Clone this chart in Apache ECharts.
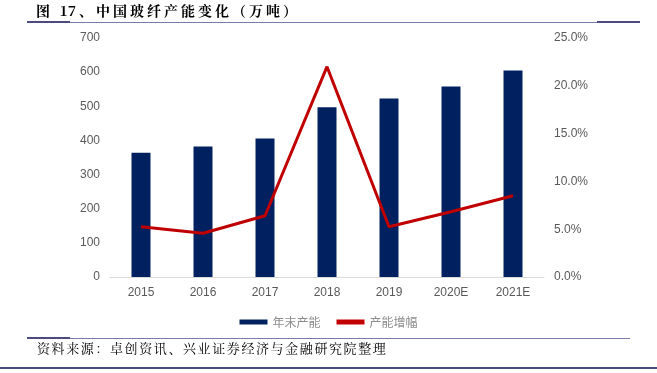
<!DOCTYPE html>
<html>
<head>
<meta charset="utf-8">
<script src="https://cdn.jsdelivr.net/npm/echarts@6/dist/echarts.min.js"></script>
<style>
html,body{margin:0;padding:0;background:#fff;}
#c{width:657px;height:373px;}
</style>
</head>
<body>
<div id="c"></div>
<script>
var categories = ['2015','2016','2017','2018','2019','2020E','2021E'];
var capacity = [364, 382, 406, 497, 523, 558, 605];
var growth = [0.0526, 0.0457, 0.0641, 0.220, 0.0526, 0.0683, 0.085];
var leftTicks = [0, 700, 100];
var rightTicks = [0, 0.25, 0.05];
var titleText = '图 17、中国玻纤产能变化（万吨）';
var sourceText = '资料来源：卓创资讯、兴业证券经济与金融研究院整理';

var measureCtx = document.createElement('canvas').getContext('2d');
function spacedText(text, x, y, font, spacing, color) {
  measureCtx.font = font;
  var els = [];
  var cx = x;
  for (var i = 0; i < text.length; i++) {
    var ch = text[i];
    els.push({type: 'text', x: cx, y: y, style: {text: ch, fill: color, font: font}});
    var next = text[i + 1];
    var tight = /[0-9]/.test(ch) && next && /[0-9]/.test(next);
    cx += measureCtx.measureText(ch).width + (tight ? 0 : spacing);
  }
  return els;
}

var chart = echarts.init(document.getElementById('c'));
var cjk = '"Noto Sans CJK SC", sans-serif';
var titleFont = 'bold 14px "Noto Serif CJK SC", "Noto Sans CJK SC", serif';
var srcFont = '13px "Noto Serif CJK SC", "Noto Sans CJK SC", serif';

var graphics = [
  {type: 'rect', shape: {x: 27, y: 22, width: 613, height: 1}, style: {fill: '#7a7aa6'}},
  {type: 'rect', shape: {x: 27, y: 21, width: 43, height: 2}, style: {fill: '#4b4b7d'}},
  {type: 'rect', shape: {x: 597, y: 21, width: 43, height: 2}, style: {fill: '#4b4b7d'}},
  {type: 'rect', shape: {x: 27, y: 338, width: 603, height: 1}, style: {fill: '#7a7aa6'}},
  {type: 'rect', shape: {x: 27, y: 337, width: 43, height: 2}, style: {fill: '#4b4b7d'}},
  {type: 'rect', shape: {x: 0, y: 367, width: 657, height: 2}, style: {fill: '#4b4b7d'}}
];
graphics = graphics.concat(spacedText(titleText, 36, 4, titleFont, 3.0, '#000'));
graphics = graphics.concat(spacedText(sourceText, 37, 342, srcFont, 1.6, '#000'));

chart.setOption({
  animation: false,
  backgroundColor: '#fff',
  grid: {left: 110, right: 113, top: 38, bottom: 96},
  legend: {
    top: 311, left: 'center',
    itemGap: 16, itemWidth: 28, itemHeight: 5,
    textStyle: {color: '#8c8c8c', fontSize: 12, fontFamily: cjk},
    data: [
      {name: '年末产能', icon: 'rect'},
      {name: '产能增幅', icon: 'rect'}
    ]
  },
  xAxis: {
    type: 'category', data: categories,
    axisLine: {lineStyle: {color: '#d9d9d9', width: 1}},
    axisTick: {show: false},
    axisLabel: {color: '#595959', fontSize: 12, margin: 10, fontFamily: 'Arial, "Liberation Sans", sans-serif'}
  },
  yAxis: [
    {
      type: 'value', min: leftTicks[0], max: leftTicks[1], interval: leftTicks[2],
      axisLine: {show: false}, axisTick: {show: false}, splitLine: {show: false},
      axisLabel: {color: '#595959', fontSize: 12, margin: 10, fontFamily: 'Arial, "Liberation Sans", sans-serif'}
    },
    {
      type: 'value', min: rightTicks[0], max: rightTicks[1], interval: rightTicks[2],
      axisLine: {show: false}, axisTick: {show: false}, splitLine: {show: false},
      axisLabel: {color: '#595959', fontSize: 12, margin: 10, fontFamily: 'Arial, "Liberation Sans", sans-serif',
        formatter: function (v) { return (v * 100).toFixed(1) + '%'; }}
    }
  ],
  series: [
    {
      name: '年末产能', type: 'bar', data: capacity, barWidth: 19,
      itemStyle: {color: '#002060'}
    },
    {
      name: '产能增幅', type: 'line', yAxisIndex: 1, data: growth,
      symbol: 'none', lineStyle: {color: '#c00000', width: 3},
      itemStyle: {color: '#c00000'}
    }
  ],
  graphic: graphics
});
</script>
</body>
</html>
